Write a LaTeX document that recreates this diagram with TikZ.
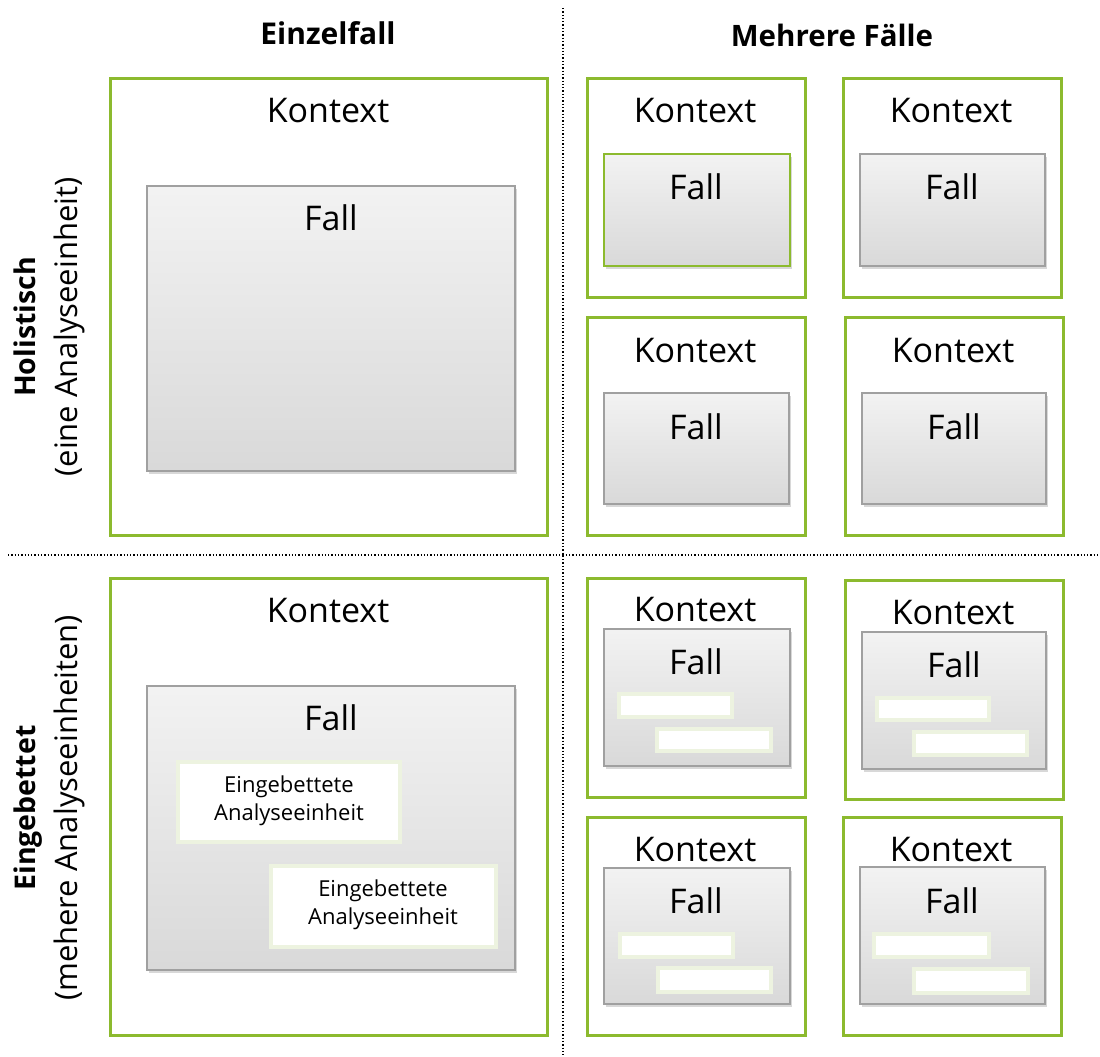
\documentclass[tikz,border=0pt]{standalone}
\usepackage{fontspec}
\setmainfont{Open Sans}
\usetikzlibrary{fit,shadows}
\definecolor{ctxgreen}{HTML}{8CBA2E}
\definecolor{fallborder}{HTML}{A0A0A0}
\definecolor{unitborder}{HTML}{EDF3E0}
\tikzset{
  ctxbox/.style={draw=ctxgreen, line width=3pt, fill=white, inner sep=0pt},
  fallbox/.style={draw=fallborder, line width=1.6pt, top color=black!5, bottom color=black!15,
    inner sep=0pt, drop shadow={opacity=0.3, shadow xshift=1.5pt, shadow yshift=-3pt}},
  fallgreen/.style={fallbox, draw=ctxgreen, line width=2.6pt},
  unitbox/.style={draw=unitborder, line width=4pt, fill=white, inner sep=0pt},
  ktext/.style={font=\fontsize{34}{40}\selectfont, inner sep=0pt},
  unittext/.style={font=\fontsize{22}{28}\selectfont, align=center, inner sep=0pt},
  header/.style={font=\fontsize{30}{36}\selectfont\bfseries, inner sep=0pt, anchor=base},
  sidelabel/.style={font=\fontsize{31}{42}\selectfont, align=center, rotate=90, inner sep=0pt},
  divider/.style={line width=1.3pt, dotted}
}
\begin{document}
\begin{tikzpicture}[x=1pt, y=-1pt]
\useasboundingbox (0,0) rectangle (1100,1057);

% grid dividers
\coordinate (vtop) at (563,8);
\coordinate (vbot) at (563,1057);
\coordinate (hleft) at (8,555);
\coordinate (hright) at (1098,555);
\draw[divider] (vtop) -- (vbot);
\draw[divider] (hleft) -- (hright);

% column and row headings
\node[header] (hEinzel) at (328,45) {Einzelfall};
\node[header, font=\fontsize{29.5}{36}\selectfont\bfseries] (hMehr) at (832,47) {Mehrere Fälle};
\node[sidelabel] (lHol) at (49,327) {{\fontsize{28.5}{42}\selectfont\bfseries Holistisch}\\(eine Analyseeinheit)};
\node[sidelabel] (lEin) at (49,808) {{\fontsize{28.5}{42}\selectfont\bfseries Eingebettet}\\(mehere Analyseeinheiten)};

% ---- holistic, single case
\node[ctxbox, fit={(110,78) (547,535)}] (c1) {};
\node[ktext] at (328,111) {Kontext};
\node[fallbox, fit={(147,186) (515,471)}] (f1) {};
\node[ktext] at (331,218) {Fall};

% ---- holistic, multiple cases
\node[ctxbox, fit={(587,78) (805,297)}] (c2) {};
\node[ktext] at (695,111) {Kontext};
\node[fallgreen, fit={(604,154) (790,266)}] (f2) {};
\node[ktext] at (696,187) {Fall};

\node[ctxbox, fit={(843,78) (1061,297)}] (c3) {};
\node[ktext] at (951,111) {Kontext};
\node[fallbox, fit={(860,154) (1045,266)}] (f3) {};
\node[ktext] at (952,187) {Fall};

\node[ctxbox, fit={(587,317) (805,535)}] (c4) {};
\node[ktext] at (695,351) {Kontext};
\node[fallbox, fit={(604,393) (789,504)}] (f4) {};
\node[ktext] at (696,427) {Fall};

\node[ctxbox, fit={(845,317) (1063,535)}] (c5) {};
\node[ktext] at (953,351) {Kontext};
\node[fallbox, fit={(862,393) (1046,504)}] (f5) {};
\node[ktext] at (954,427) {Fall};

% ---- embedded, single case
\node[ctxbox, fit={(110,578) (547,1035)}] (c6) {};
\node[ktext] at (328,611) {Kontext};
\node[fallbox, fit={(147,686) (515,970)}] (f6) {};
\node[ktext] at (331,718) {Fall};
\node[unitbox, fit={(178,762) (400,842)}] (u1) {};
\node[unittext] at (289,801) {Eingebettete\\Analyseeinheit};
\node[unitbox, fit={(271,866) (496,947)}] (u2) {};
\node[unittext] at (383,905) {Eingebettete\\Analyseeinheit};

% ---- embedded, multiple cases
\node[ctxbox, fit={(587,578) (805,797)}] (c7) {};
\node[ktext] at (695,610) {Kontext};
\node[fallbox, fit={(604,629) (790,766)}] (f7) {};
\node[ktext] at (696,662) {Fall};
\node[unitbox, fit={(619,694) (732,717)}] (u3) {};
\node[unitbox, fit={(657,729) (771,751)}] (u4) {};

\node[ctxbox, fit={(845,580) (1063,799)}] (c8) {};
\node[ktext] at (953,613) {Kontext};
\node[fallbox, fit={(862,632) (1046,769)}] (f8) {};
\node[ktext] at (954,665) {Fall};
\node[unitbox, fit={(877,698) (989,720)}] (u5) {};
\node[unitbox, fit={(914,732) (1027,755)}] (u6) {};

\node[ctxbox, fit={(587,817) (805,1035)}] (c9) {};
\node[ktext] at (695,850) {Kontext};
\node[fallbox, fit={(604,868) (790,1004)}] (f9) {};
\node[ktext] at (696,901) {Fall};
\node[unitbox, fit={(620,934) (733,957)}] (u7) {};
\node[unitbox, fit={(658,968) (771,992)}] (u8) {};

\node[ctxbox, fit={(843,817) (1061,1035)}] (c10) {};
\node[ktext] at (951,850) {Kontext};
\node[fallbox, fit={(860,867) (1045,1004)}] (f10) {};
\node[ktext] at (952,901) {Fall};
\node[unitbox, fit={(874,934) (989,957)}] (u9) {};
\node[unitbox, fit={(914,969) (1028,993)}] (u10) {};
\end{tikzpicture}
\end{document}
